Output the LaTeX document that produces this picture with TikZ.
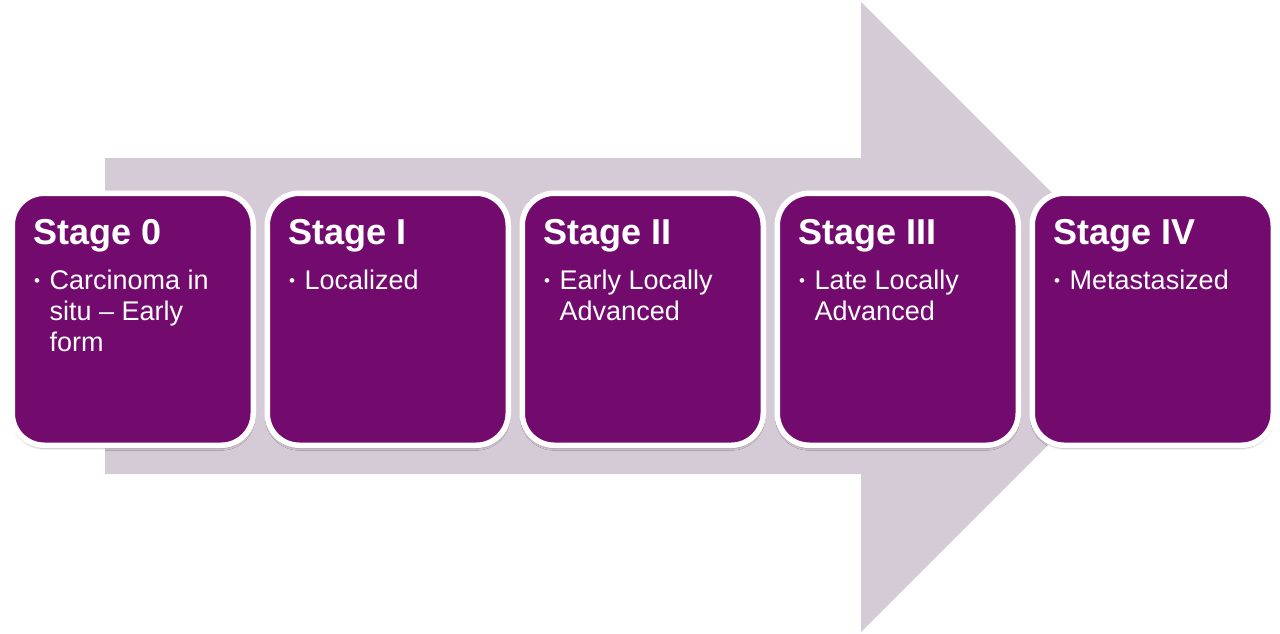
\documentclass[tikz,border=0pt]{standalone}
\usepackage{fontspec}
\setmainfont{Liberation Sans}
\usetikzlibrary{shadows.blur}
\definecolor{arrowc}{RGB}{213,203,214}
\definecolor{stagec}{RGB}{115,11,110}
\newcommand{\stbul}{\makebox[15.5pt][l]{\raisebox{2.5pt}{\fontsize{17}{17}\selectfont\textbullet}}}
\newcommand{\stlines}[1]{\begin{tabular}[t]{@{}l@{}l@{}}#1\end{tabular}}
\begin{document}
\begin{tikzpicture}[x=1pt,y=-1pt,
  stagebox/.style={rectangle, rounded corners=32pt, fill=stagec, draw=white,
    line width=5.5pt, minimum width=241pt, minimum height=252pt, inner sep=0pt,
    anchor=north west,
    blur shadow={shadow xshift=0pt, shadow yshift=-3pt, shadow blur steps=6, shadow opacity=30}},
  stagetitle/.style={anchor=base west, text=white, inner sep=0pt,
    font=\fontsize{36}{42}\selectfont\bfseries},
  stagetext/.style={anchor=base west, text=white, inner sep=0pt,
    font=\fontsize{27}{31}\selectfont}]
\useasboundingbox (0,0) rectangle (1280,633);
% big arrow
\fill[arrowc] (105,158) -- (861,158) -- (861,2) -- (1176,317) -- (861,632)
  -- (861,474) -- (105,474) -- cycle;
% stage boxes
\foreach \i in {0,...,4}{
  \node[stagebox] (box\i) at ({9.5+255*\i},190.5) {};
}
% titles
\foreach \i/\t in {0/Stage 0,1/Stage I,2/Stage II,3/Stage III,4/Stage IV}{
  \node[stagetitle] (title\i) at ({33+255*\i},244) {\t};
}
% bullet texts
\node[stagetext] (text0) at (34,289) {\stlines{\stbul & Carcinoma in\\ & situ – Early\\ & form}};
\node[stagetext] (text1) at (289,289) {\stlines{\stbul & Localized}};
\node[stagetext] (text2) at (544,289) {\stlines{\stbul & Early Locally\\ & Advanced}};
\node[stagetext] (text3) at (799,289) {\stlines{\stbul & Late Locally\\ & Advanced}};
\node[stagetext] (text4) at (1054,289) {\stlines{\stbul & Metastasized}};
\end{tikzpicture}
\end{document}
